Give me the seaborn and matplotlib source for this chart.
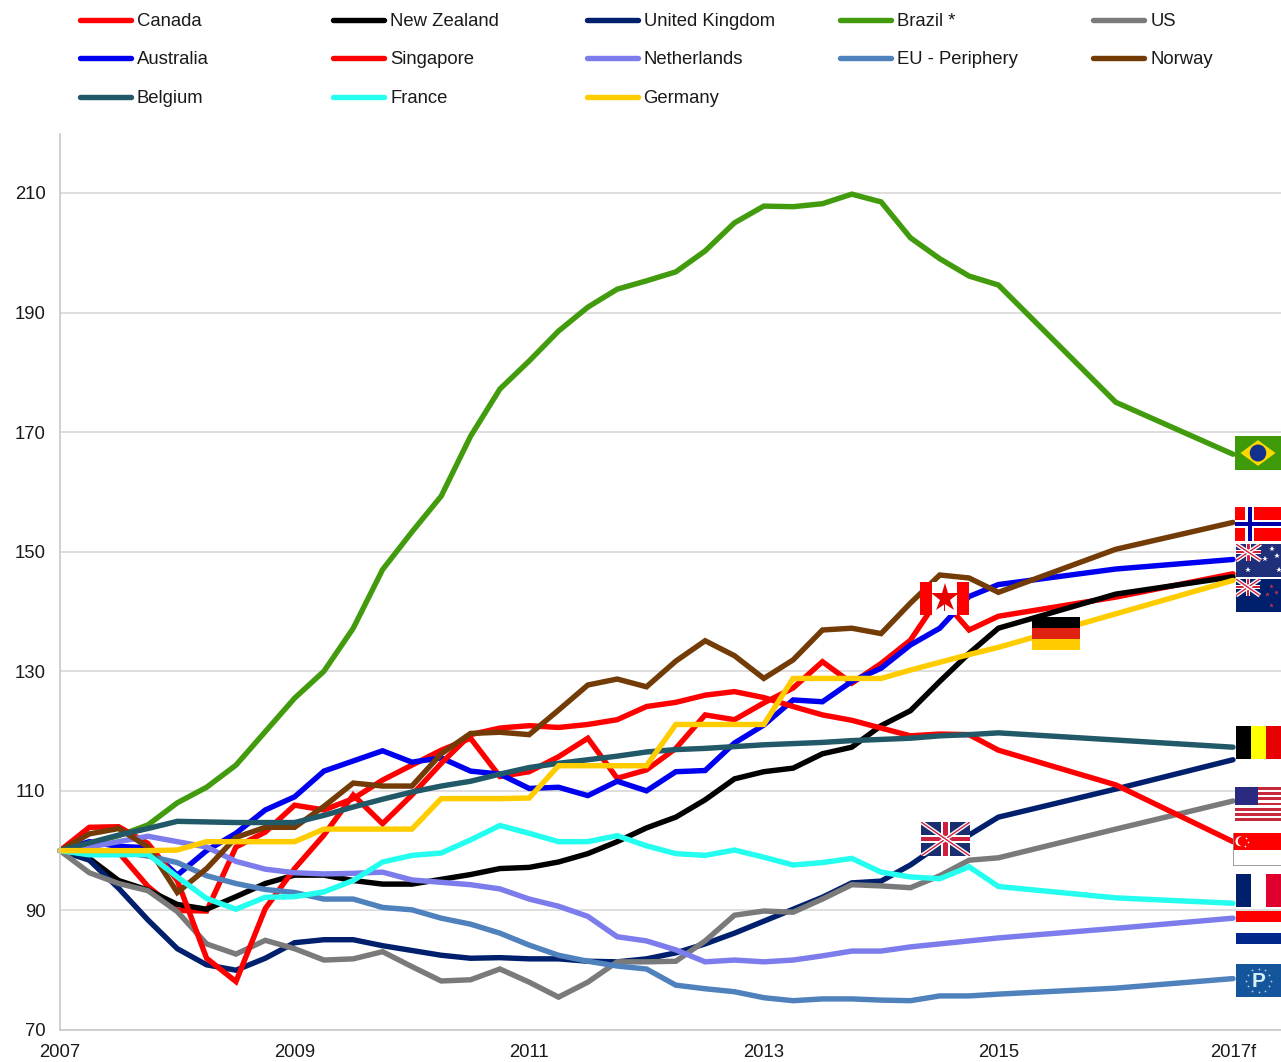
import numpy as np
import pandas as pd
import matplotlib
matplotlib.use("Agg")
import matplotlib.pyplot as plt
from matplotlib.lines import Line2D
from matplotlib.patches import Rectangle, Polygon, Ellipse
import seaborn as sns

W, H = 1281, 1062

# quarterly up to 2015, then annual points
periods = list(np.arange(2007, 2015.25, 0.25)) + [2016, 2017]

canada = [100, 100, 99.7, 94, 90, 89.9, 100.6, 103.1, 107.6, 106.8, 108.7, 111.8, 114.3, 116.8, 118.8, 112.4, 113.2,
          115.7, 118.8, 112.1, 113.5, 117.1, 122.7, 121.9, 124.7, 127.2, 131.6, 128, 131.3, 135.2, 142.5, 136.9, 139.2, 142.4, 146.3]
new_zealand = [100, 98.7, 95, 93.4, 91, 90.2, 92.3, 94.5, 95.9, 95.9, 95, 94.4, 94.4, 95.2, 96, 97, 97.2,
               98.1, 99.5, 101.5, 103.8, 105.6, 108.5, 112, 113.2, 113.8, 116.2, 117.3, 120.9, 123.4, 128.3, 133, 137.2, 142.9, 145.8]
uk = [100, 98.4, 93.7, 88.4, 83.6, 80.9, 80, 82, 84.6, 85.1, 85.1, 84.1, 83.3, 82.5, 82, 82.1, 81.9,
      81.9, 81.5, 81.4, 81.9, 82.9, 84.4, 86.2, 88.2, 90.2, 92.2, 94.6, 94.9, 97.6, 101, 102.6, 105.6, 110.3, 115.2]
brazil = [100, 101.2, 102.5, 104.3, 108, 110.6, 114.3, 119.9, 125.5, 130, 137.2, 147, 153.3, 159.3, 169.3, 177.2, 181.9,
          186.9, 190.9, 193.9, 195.3, 196.8, 200.3, 205, 207.8, 207.7, 208.2, 209.8, 208.5, 202.5, 199, 196.1, 194.6, 175, 166.3]
us = [100, 96.3, 94.5, 93.3, 89.8, 84.4, 82.7, 85, 83.6, 81.7, 81.9, 83.1, 80.6, 78.2, 78.4, 80.2, 78,
      75.5, 78, 81.4, 81.4, 81.5, 84.9, 89.2, 89.9, 89.7, 91.9, 94.3, 94.1, 93.8, 95.8, 98.4, 98.8, 103.6, 108.3]
australia = [100, 101.5, 100.7, 100.5, 95.9, 100, 102.9, 106.8, 109, 113.3, 115, 116.7, 114.8, 115.5, 113.3, 112.8, 110.4,
             110.6, 109.2, 111.6, 110, 113.2, 113.4, 118, 121, 125.2, 124.9, 128.3, 130.5, 134.4, 137.2, 142.5, 144.5, 147.1, 148.7]
singapore = [100, 103.9, 104, 101.2, 95, 82, 78.1, 90.3, 97, 102.6, 109.3, 104.5, 109.3, 114.6, 119.4, 120.5, 120.9,
             120.6, 121.1, 121.9, 124.1, 124.8, 126, 126.6, 125.6, 124.1, 122.7, 121.8, 120.5, 119.2, 119.5, 119.4, 116.8, 111, 101.5]
netherlands = [100, 100.6, 101.5, 102.4, 101.5, 100.6, 98.2, 96.9, 96.3, 96.1, 96.2, 96.4, 95.1, 94.7, 94.3, 93.6, 91.9,
               90.7, 89, 85.6, 84.9, 83.4, 81.4, 81.7, 81.4, 81.7, 82.4, 83.2, 83.2, 83.9, 84.4, 84.9, 85.4, 87, 88.7]
eu_periphery = [100, 99.7, 99.8, 99.1, 98, 95.8, 94.5, 93.5, 93, 91.9, 91.9, 90.5, 90.1, 88.7, 87.7, 86.2, 84.2,
                82.5, 81.5, 80.7, 80.2, 77.5, 76.9, 76.4, 75.4, 74.9, 75.2, 75.2, 75, 74.9, 75.7, 75.7, 76, 77, 78.6]
norway = [100, 102.8, 103.7, 100.6, 93, 97, 102.2, 103.9, 103.9, 107.4, 111.3, 110.8, 110.8, 116.2, 119.6, 119.8, 119.4,
          123.5, 127.7, 128.7, 127.4, 131.7, 135.1, 132.6, 128.8, 131.9, 136.9, 137.2, 136.3, 141.4, 146.1, 145.6, 143.2, 150.4, 154.9]
belgium = [100, 101.3, 102.6, 103.7, 104.9, 104.8, 104.7, 104.7, 104.7, 105.9, 107.3, 108.6, 109.8, 110.8, 111.6, 112.8, 113.9,
           114.6, 115.2, 115.8, 116.5, 116.9, 117.1, 117.4, 117.7, 117.9, 118.1, 118.4, 118.6, 118.8, 119.2, 119.4, 119.7, 118.5, 117.3]
france = [100, 99.3, 99.3, 99.4, 95.6, 92, 90.2, 92.2, 92.3, 93.1, 95, 98.1, 99.2, 99.6, 101.8, 104.2, 102.9,
          101.5, 101.5, 102.5, 100.8, 99.5, 99.2, 100.1, 98.9, 97.6, 98, 98.7, 96.4, 95.6, 95.3, 97.3, 94, 92.1, 91.2]
germany = [100, 100, 100, 100, 100.1, 101.5, 101.5, 101.5, 101.5, 103.6, 103.6, 103.6, 103.6, 108.7, 108.7, 108.7, 108.8,
           114.2, 114.2, 114.2, 114.2, 121.1, 121.1, 121.1, 121.1, 128.8, 128.8, 128.8, 128.8, 130.2, 131.5, 132.8, 134, 139.6, 145.2]

names = ["Canada", "New Zealand", "United Kingdom", "Brazil *", "US", "Australia", "Singapore",
         "Netherlands", "EU - Periphery", "Norway", "Belgium", "France", "Germany"]
series = [canada, new_zealand, uk, brazil, us, australia, singapore,
          netherlands, eu_periphery, norway, belgium, france, germany]
colors = ["#ff0000", "#000000", "#00206e", "#429b0c", "#7a7a7a", "#0000f0", "#ff0000",
          "#7c7cec", "#4f81bd", "#733c06", "#215968", "#24fff0", "#ffcc00"]

y_ticks = [70, 90, 110, 130, 150, 170, 190, 210]
x_ticks = [2007, 2009, 2011, 2013, 2015, 2017]
x_labels = ["2007", "2009", "2011", "2013", "2015", "2017f"]

df = pd.DataFrame({"period": periods * len(names),
                   "country": np.repeat(names, len(periods)),
                   "index": np.concatenate(series)})

sns.set_theme(style="white")
plt.rcParams["font.family"] = ["Liberation Sans", "DejaVu Sans"]
FS = 13.3

fig = plt.figure(figsize=(W / 100, H / 100), dpi=100)
ax = fig.add_axes([60 / W, 1 - 1030 / H, (W - 60) / W, (1030 - 134) / H])

sns.lineplot(data=df, x="period", y="index", hue="country", hue_order=names,
             palette=dict(zip(names, colors)), linewidth=3.9, errorbar=None, sort=False,
             solid_capstyle="round", solid_joinstyle="miter", legend=False, ax=ax, clip_on=False)

ax.set_xlim(2007, 2007 + (W - 60) / 117.3)
ax.set_ylim(70, 70 + (1030 - 134) / 5.979)
ax.set_yticks(y_ticks)
ax.set_xticks(x_ticks)
ax.set_xticklabels(x_labels)
ax.set_xlabel("")
ax.set_ylabel("")
ax.tick_params(axis="both", length=0, labelsize=FS, colors="#1a1a1a")
ax.tick_params(axis="x", pad=10)
ax.tick_params(axis="y", pad=10.5)
ax.grid(axis="y", color="#d4d4d4", linewidth=1.1)
ax.set_axisbelow(True)
sns.despine(ax=ax, top=True, right=True)
for s in ["left", "bottom"]:
    ax.spines[s].set_color("#c8c8c8")
    ax.spines[s].set_linewidth(1.2)

# legend laid out by row, as in the original
for i, (name, col) in enumerate(zip(names, colors)):
    cx = 78 + 253.3 * (i % 5)
    cy = [20, 58, 97][i // 5]
    fig.add_artist(Line2D([(cx + 2) / W, (cx + 53) / W], [1 - cy / H, 1 - cy / H], color=col, linewidth=3.9,
                          solid_capstyle="round"))
    fig.text((cx + 59) / W, 1 - (cy + 6) / H, name, fontsize=FS, color="#1a1a1a", va="baseline", ha="left")


def flag_axes(left, top, right, bottom, bg="white"):
    a = fig.add_axes([left / W, 1 - bottom / H, (right - left) / W, (bottom - top) / H], zorder=5)
    a.set_xlim(0, 1)
    a.set_ylim(0, 1)
    a.axis("off")
    a.add_patch(Rectangle((0, 0), 1, 1, color=bg, lw=0))
    return a


def v_stripes(a, cols):
    for i, c in enumerate(cols):
        a.add_patch(Rectangle((i / len(cols), 0), 1 / len(cols), 1, color=c, lw=0))


def h_stripes(a, cols):
    for i, c in enumerate(cols):
        a.add_patch(Rectangle((0, 1 - (i + 1) / len(cols)), 1, 1 / len(cols), color=c, lw=0))


def union_jack(a, x0, y0, w, h, bg="#1f2f7a"):
    a.add_patch(Rectangle((x0, y0), w, h, color=bg, lw=0))
    for xs, ys in [((x0, x0 + w), (y0, y0 + h)), ((x0, x0 + w), (y0 + h, y0))]:
        a.plot(xs, ys, color="white", lw=3, solid_capstyle="butt")
        a.plot(xs, ys, color="#d02040", lw=1, solid_capstyle="butt")
    a.add_patch(Rectangle((x0 + w * 0.4, y0), w * 0.2, h, color="white", lw=0))
    a.add_patch(Rectangle((x0, y0 + h * 0.38), w, h * 0.24, color="white", lw=0))
    a.add_patch(Rectangle((x0 + w * 0.45, y0), w * 0.1, h, color="#d02040", lw=0))
    a.add_patch(Rectangle((x0, y0 + h * 0.44), w, h * 0.12, color="#d02040", lw=0))


# Brazil
a = flag_axes(1235, 436, 1281, 470, "#3f9a0a")
a.add_patch(Polygon([(0.12, 0.5), (0.5, 0.88), (0.88, 0.5), (0.5, 0.12)], color="#ffd800", lw=0))
a.add_patch(Ellipse((0.5, 0.5), 0.36, 0.5, color="#12308c", lw=0))

# Norway
a = flag_axes(1235, 507, 1281, 541, "#ff0000")
a.add_patch(Rectangle((0.22, 0), 0.2, 1, color="white", lw=0))
a.add_patch(Rectangle((0, 0.38), 1, 0.24, color="white", lw=0))
a.add_patch(Rectangle((0.28, 0), 0.08, 1, color="#0000a8", lw=0))
a.add_patch(Rectangle((0, 0.44), 1, 0.12, color="#0000a8", lw=0))

# Australia
a = flag_axes(1236, 544, 1281, 577, "#1f2f7a")
union_jack(a, 0, 0.5, 0.55, 0.5)
a.plot([0.27, 0.65, 0.8, 0.9, 0.95], [0.22, 0.55, 0.85, 0.65, 0.2], ls="", marker="*", color="white", ms=4, mew=0)

# New Zealand
a = flag_axes(1236, 579, 1281, 612, "#00206e")
union_jack(a, 0, 0.5, 0.53, 0.5, "#00206e")
a.plot([0.78, 0.68, 0.88, 0.78], [0.8, 0.55, 0.6, 0.2], ls="", marker="*", color="#c83050", ms=3.5, mew=0)

# Germany
a = flag_axes(1032, 617, 1080, 650)
h_stripes(a, ["#000000", "#e02010", "#ffcc00"])

# Belgium
a = flag_axes(1236, 726, 1281, 759)
v_stripes(a, ["#000000", "#ffff00", "#e60000"])

# US
a = flag_axes(1235, 787, 1281, 821)
h_stripes(a, ["#c8283c", "white"] * 6 + ["#c8283c"])
a.add_patch(Rectangle((0, 0.46), 0.5, 0.54, color="#2a2a80", lw=0))

# Singapore
a = flag_axes(1233, 833, 1281, 866)
h_stripes(a, ["#ff0000", "white"])
a.add_patch(Ellipse((0.15, 0.75), 0.2, 0.3, color="white", lw=0))
a.add_patch(Ellipse((0.2, 0.75), 0.2, 0.3, color="#ff0000", lw=0))
a.plot([0.27, 0.31, 0.25], [0.85, 0.72, 0.62], ls="", marker="o", ms=1.2, color="white", mew=0)
a.plot([0.01, 0.01, 1], [1, 0.01, 0.01], color="#909090", lw=1.2)

# France
a = flag_axes(1236, 874, 1281, 907)
v_stripes(a, ["#00206e", "white", "#e00030"])

# Netherlands
a = flag_axes(1236, 911, 1281, 944)
h_stripes(a, ["#ff0000", "white", "#00288c"])

# EU periphery badge
a = flag_axes(1236, 964, 1281, 997, "#14559c")
a.text(0.5, 0.47, "P", color="#d8eef5", fontsize=15, fontweight="bold", ha="center", va="center")
angles = [i * np.pi / 6 for i in range(12)]
a.plot([0.5 + 0.28 * np.cos(t) for t in angles], [0.5 + 0.36 * np.sin(t) for t in angles], ls="", marker="o", ms=1.3, color="#a8d0e0", mew=0)

# Canada
a = flag_axes(920, 582, 969, 615)
v_stripes(a, ["#ff0000", "white", "white", "#ff0000"])
a.plot([0.5], [0.52], marker="*", ms=21, color="#e60000", mew=0)
a.add_patch(Rectangle((0.485, 0.12), 0.03, 0.25, color="#e60000", lw=0))

# UK
a = flag_axes(921, 822, 970, 856, "#1a2f70")
union_jack(a, 0, 0, 1, 1, "#1a2f70")

fig.savefig("out.png", dpi=100)
